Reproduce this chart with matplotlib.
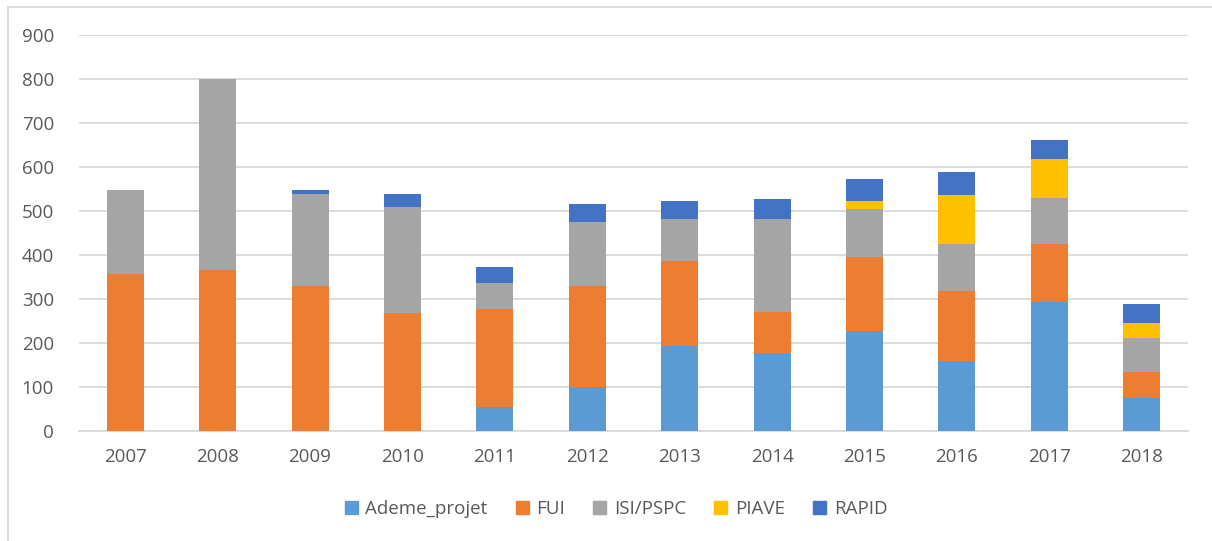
import numpy as np
import matplotlib.pyplot as plt
from matplotlib.lines import Line2D

years = ["2007", "2008", "2009", "2010", "2011", "2012",
         "2013", "2014", "2015", "2016", "2017", "2018"]
ademe = [0, 0, 0, 0, 55, 100, 193, 177, 226, 160, 292, 76]
fui = [357, 365, 328, 267, 223, 230, 194, 93, 170, 158, 132, 57]
isi = [191, 433, 210, 241, 57, 145, 94, 211, 108, 107, 104, 79]
piave = [0, 0, 0, 0, 0, 0, 0, 0, 19, 111, 89, 34]
rapid = [0, 0, 10, 30, 38, 41, 42, 45, 49, 53, 43, 42]

series = [("Ademe_projet", ademe, "#5b9bd5"),
          ("FUI", fui, "#ed7d31"),
          ("ISI/PSPC", isi, "#a5a5a5"),
          ("PIAVE", piave, "#ffc000"),
          ("RAPID", rapid, "#4472c4")]

plt.rcParams['font.family'] = ['Open Sans', 'DejaVu Sans']

fig = plt.figure(figsize=(12.12, 5.41), dpi=100)
ax = fig.add_axes([79 / 1212, 1 - 431 / 541, 1109 / 1212, 396.5 / 541])

x = np.arange(len(years))
bottom = np.zeros(len(years))
for name, vals, col in series:
    vals = np.array(vals, dtype=float)
    ax.bar(x, vals, 0.4, bottom=bottom, color=col, label=name, zorder=3)
    bottom += vals

ax.set_xlim(-0.5, len(years) - 0.5)
ax.set_ylim(0, 900)
ax.set_yticks(range(0, 901, 100))
ax.set_xticks(x)
ax.set_xticklabels(years)
ax.grid(axis='y', color='#d9d9d9', linewidth=1.3, zorder=0)
for s in ['top', 'right', 'left']:
    ax.spines[s].set_visible(False)
ax.spines['bottom'].set_color('#d9d9d9')
ax.spines['bottom'].set_linewidth(1.3)
ax.tick_params(axis='both', length=0, labelsize=13.5, labelcolor='#595959')
ax.tick_params(axis='x', pad=12)
ax.tick_params(axis='y', pad=18)

handles = [plt.Rectangle((0, 0), 1, 1, color=c) for _, _, c in series]
fig.legend(handles, [n for n, _, _ in series], loc='center',
           bbox_to_anchor=(616 / 1212, 1 - 509 / 541), ncol=5, frameon=False,
           fontsize=13.5, handlelength=0.7, handleheight=0.7, columnspacing=1.5,
           handletextpad=0.4, labelcolor='#595959')

# outer chart border (partly cropped)
fig.add_artist(Line2D([8 / 1212, 8 / 1212], [0, 1 - 7 / 541],
                      transform=fig.transFigure, color='#d9d9d9', lw=1.3))
fig.add_artist(Line2D([8 / 1212, 1], [1 - 7 / 541, 1 - 7 / 541],
                      transform=fig.transFigure, color='#d9d9d9', lw=1.3))

fig.savefig("out.png", dpi=100)
